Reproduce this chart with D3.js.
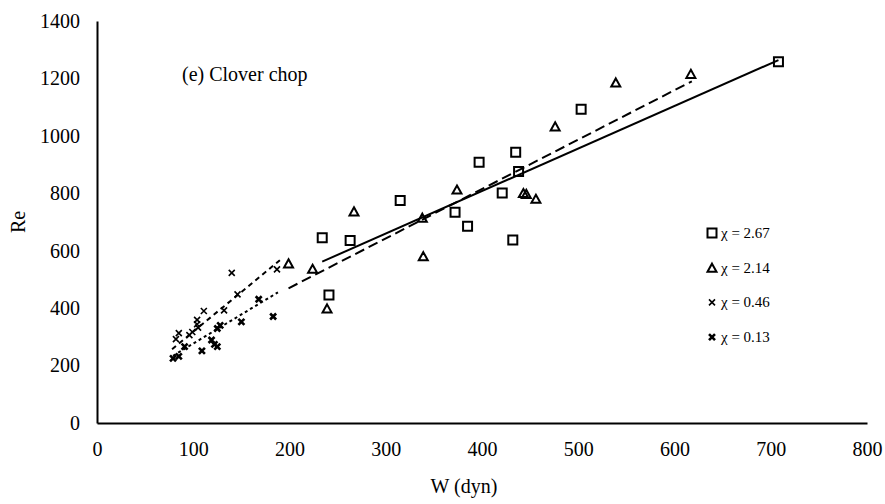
<!DOCTYPE html>
<html>
<head>
<meta charset="utf-8">
<script src="https://cdn.jsdelivr.net/npm/d3@7"></script>
<style>
  body { margin: 0; background: #fff; }
  svg text { font-family: "Liberation Serif", "Times New Roman", serif; fill: #000; }
</style>
</head>
<body>
<svg id="vis" width="885" height="504"></svg>
<script>
// chi = 2.67 (squares)
const sqW  = [234, 241, 263, 315, 372, 385, 397, 421, 432, 435, 438, 503, 708];
const sqRe = [645, 446, 636, 775, 734, 685, 908, 801, 637, 943, 876, 1093, 1258];

// chi = 2.14 (triangles)
const triW  = [199, 224, 239, 267, 338, 339, 374, 443, 446, 456, 476, 539, 617];
const triRe = [556, 537, 399, 737, 715, 581, 813, 801, 798, 781, 1033, 1186, 1216];

// chi = 0.46 (thin crosses)
const c46W  = [82, 85, 96, 99, 104, 104, 105, 111, 132, 140, 146, 187];
const c46Re = [292, 313, 306, 317, 359, 344, 332, 390, 392, 523, 448, 535];

// chi = 0.13 (bold crosses)
const c13W  = [79, 85, 91, 109, 119, 122, 125, 125, 128, 150, 168, 183];
const c13Re = [225, 232, 266, 251, 289, 274, 266, 329, 340, 352, 431, 371];

// trend lines: [x0, y0, x1, y1]
const trend267 = [234, 562, 708, 1264];
const trend214 = [199, 469, 618, 1190];
const trend046 = [78, 257, 190, 567];
const trend013 = [79, 234, 188, 455];

const legendLabels = ["χ = 2.67", "χ = 2.14", "χ = 0.46", "χ = 0.13"];
const xTicks = [0, 100, 200, 300, 400, 500, 600, 700, 800];
const yTicks = [0, 200, 400, 600, 800, 1000, 1200, 1400];

const svg = d3.select("svg#vis");

const x = d3.scaleLinear().domain([0, 800]).range([97, 867]);
const y = d3.scaleLinear().domain([0, 1400]).range([423, 21]);

// axes (no tick marks, plain integer labels)
const xAxis = d3.axisBottom(x).tickValues(xTicks).tickSize(0).tickPadding(19).tickFormat(d3.format("d"));
const yAxis = d3.axisLeft(y).tickValues(yTicks).tickSize(0).tickPadding(17).tickFormat(d3.format("d"));

const gx = svg.append("g").attr("transform", "translate(0,423)").call(xAxis);
const gy = svg.append("g").attr("transform", "translate(97,0)").call(yAxis);

[gx, gy].forEach(function(g) {
  g.select(".domain").attr("stroke", "#000").attr("stroke-width", 2);
  g.selectAll("text")
    .style("font-family", "Liberation Serif, serif")
    .style("font-size", "20px")
    .attr("fill", "#000");
});

svg.append("text")
  .attr("x", 464).attr("y", 493)
  .attr("text-anchor", "middle")
  .style("font-size", "20px")
  .text("W (dyn)");

svg.append("text")
  .attr("transform", "translate(25,222) rotate(-90)")
  .attr("text-anchor", "middle")
  .style("font-size", "20px")
  .text("Re");

svg.append("text")
  .attr("x", 182).attr("y", 81)
  .style("font-size", "20px")
  .text("(e) Clover chop");

// marker shapes
function squarePath(s) {
  return "M" + (-s / 2) + "," + (-s / 2) + "h" + s + "v" + s + "h" + (-s) + "Z";
}
function trianglePath(s) {
  const h = s * 0.9;
  return "M0," + (-h / 2) + "L" + (s / 2) + "," + (h / 2) + "L" + (-s / 2) + "," + (h / 2) + "Z";
}
function crossPath(s) {
  const r = s / 2;
  return "M" + (-r) + "," + (-r) + "L" + r + "," + r + "M" + r + "," + (-r) + "L" + (-r) + "," + r;
}

function zip(a, b) { return a.map((v, i) => [v, b[i]]); }

const series = [
  { xs: sqW,  ys: sqRe,  path: squarePath(9),   sw: 2,   trend: trend267, dash: null },
  { xs: triW, ys: triRe, path: trianglePath(9), sw: 2,   trend: trend214, dash: "10,5" },
  { xs: c46W, ys: c46Re, path: crossPath(6),    sw: 1.6, trend: trend046, dash: "5,4" },
  { xs: c13W, ys: c13Re, path: crossPath(6),    sw: 2.6, trend: trend013, dash: "3,3" }
];

const gLines = svg.append("g");
const gMarks = svg.append("g");

series.forEach(function(s) {
  const t = s.trend;
  gLines.append("line")
    .attr("x1", x(t[0])).attr("y1", y(t[1]))
    .attr("x2", x(t[2])).attr("y2", y(t[3]))
    .attr("stroke", "#000")
    .attr("stroke-width", 2)
    .attr("stroke-dasharray", s.dash);

  gMarks.selectAll(null)
    .data(zip(s.xs, s.ys))
    .enter()
    .append("path")
    .attr("transform", d => "translate(" + x(d[0]) + "," + y(d[1]) + ")")
    .attr("d", s.path)
    .attr("fill", "none")
    .attr("stroke", "#000")
    .attr("stroke-width", s.sw);
});

// legend
const legend = svg.append("g").attr("transform", "translate(712,233)");
const rows = legend.selectAll("g")
  .data(legendLabels)
  .enter()
  .append("g")
  .attr("transform", (d, i) => "translate(0," + (i * 34.7) + ")");

rows.append("path")
  .attr("d", (d, i) => series[i].path)
  .attr("fill", "none")
  .attr("stroke", "#000")
  .attr("stroke-width", (d, i) => series[i].sw);

rows.append("text")
  .attr("x", 9)
  .attr("y", 5)
  .style("font-size", "15px")
  .text(d => d);
</script>
</body>
</html>
